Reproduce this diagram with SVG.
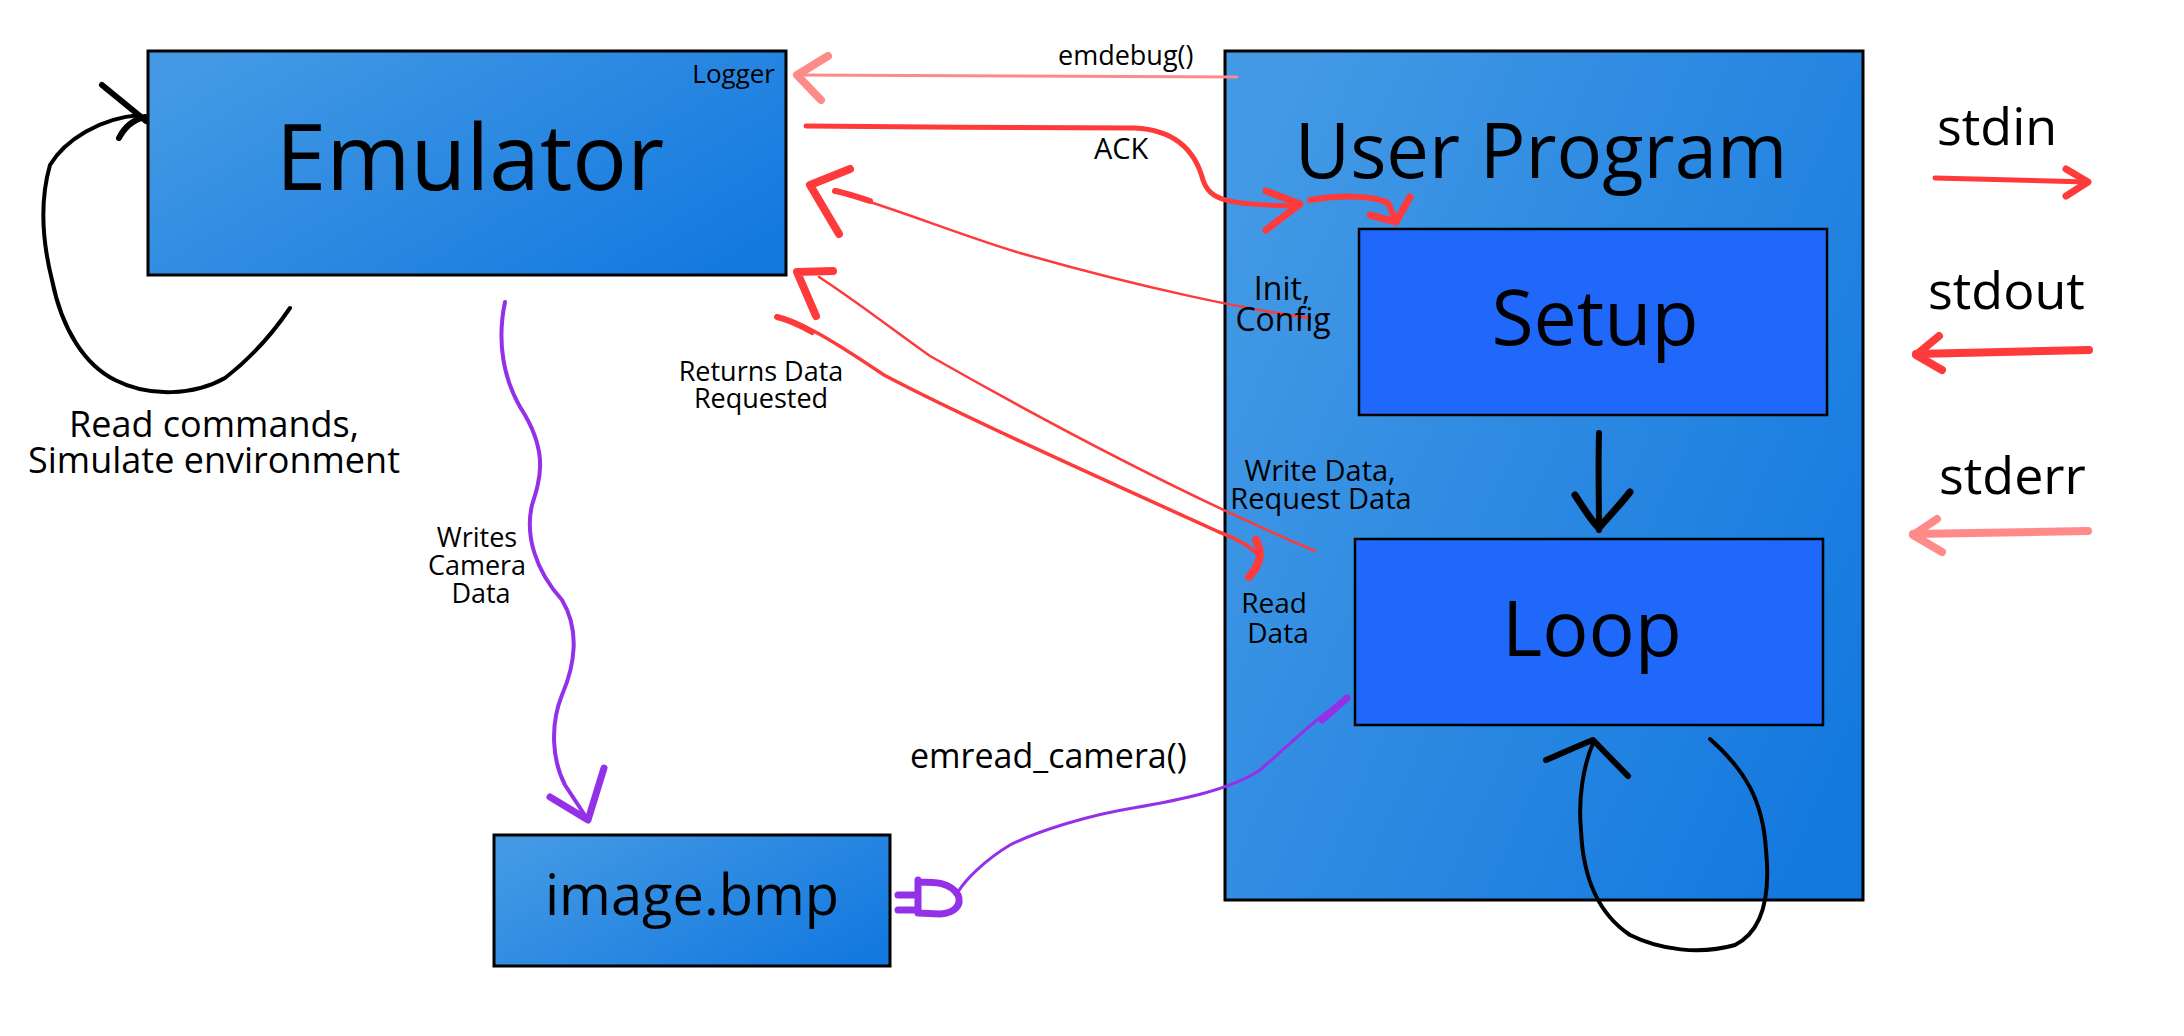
<svg xmlns="http://www.w3.org/2000/svg" width="2184" height="1036" viewBox="0 0 2184 1036">
<defs>
<linearGradient id="gBox" x1="0" y1="0.2" x2="1" y2="0.8">
<stop offset="0" stop-color="#4399e4"/>
<stop offset="1" stop-color="#1479df"/>
</linearGradient>
<style>
.box{fill:url(#gBox);stroke:#000;stroke-width:3}
.inner{fill:#1f68fa;stroke:#000;stroke-width:2.5}
text{font-family:"Open Sans","Noto Sans","DejaVu Sans",sans-serif;fill:#000}
.c{text-anchor:middle}
path{fill:none;stroke-linecap:round;stroke-linejoin:round}
.red{stroke:#ff3a3a}
.pink{stroke:#ff8a8a}
.pur{stroke:#9331e9}
.blk{stroke:#000}
</style>
</defs>
<rect width="2184" height="1036" fill="#fff"/>

<g id="user-program">
<rect class="box" x="1225" y="51" width="638" height="849"/>
<text class="c" x="1541" y="178" font-size="76">User Program</text>
</g>
<g id="setup">
<rect class="inner" x="1359" y="229" width="468" height="186"/>
<text class="c" x="1595" y="345" font-size="77">Setup</text>
</g>
<g id="loop">
<rect class="inner" x="1355" y="539" width="468" height="186"/>
<text class="c" x="1592" y="656" font-size="77">Loop</text>
</g>
<g id="emulator">
<rect class="box" x="148" y="51" width="638" height="224"/>
<text class="c" x="470" y="190" font-size="91">Emulator</text>
<text x="775" y="83" font-size="26" text-anchor="end">Logger</text>
</g>
<g id="image-bmp">
<rect class="box" x="494" y="835" width="396" height="131"/>
<text class="c" x="692" y="915" font-size="56">image.bmp</text>
</g>

<g id="connectors">
<!-- emulator self loop -->
<path class="blk" stroke-width="4" d="M140,115 C100,118 65,140 50,165 C40,200 42,240 52,280 C62,330 85,365 115,380 C150,398 195,395 225,378 C255,355 275,330 290,308"/>
<path class="blk" stroke-width="6" d="M102,85 L146,121 M119,138 C124,128 132,120 145,117"/>
<!-- writes camera data -->
<path class="pur" stroke-width="4" d="M505,302 C497,340 502,380 525,415 C548,455 540,480 532,505 C525,535 535,570 562,600 C580,630 575,665 562,695 C550,725 552,760 565,785 L588,820"/>
<path class="pur" stroke-width="7" d="M550,797 L588,820 L604,768"/>
<!-- emread_camera -->
<path class="pur" stroke-width="3" d="M1347,698 C1320,715 1300,735 1260,770 C1230,790 1180,800 1133,808 C1090,815 1040,830 1010,845 C985,860 965,880 958,892"/>
<path class="pur" stroke-width="7" d="M1347,698 C1338,706 1330,713 1322,720"/>
<path class="pur" stroke-width="7" d="M918,880 L918,913 M918,882 C935,882 950,882 958,895 C962,905 955,913 940,914 L918,913 M898,895 L918,895 M898,910 L918,910"/>
<!-- emdebug -->
<path class="pink" stroke-width="3" d="M1237,77 C1100,76 950,75 797,75"/>
<path class="pink" stroke-width="8" d="M828,56 L797,75 L821,100"/>
<!-- ACK -->
<path class="red" stroke-width="5" d="M806,126 C900,127 1050,128 1135,128 C1175,130 1195,150 1203,180 C1210,200 1225,205 1300,206"/>
<path class="red" stroke-width="7" d="M1266,191 L1300,204 L1266,230"/>
<path class="red" stroke-width="6" d="M1310,200 C1335,196 1370,194 1388,203 L1396,221"/>
<path class="red" stroke-width="7" d="M1370,215 L1396,222 L1410,197"/>
<!-- init config -->
<path class="red" stroke-width="2.5" d="M1310,318 C1250,310 1150,290 1020,253 C960,235 900,210 835,191"/>
<path class="red" stroke-width="6" d="M870,201 C858,197 846,193 835,191"/>
<path class="red" stroke-width="8" d="M850,169 L810,185 L839,234"/>
<!-- returns data -->
<path class="red" stroke-width="2.5" d="M1315,551 C1200,502 1060,430 930,356 C880,320 850,297 819,277"/>
<path class="red" stroke-width="8" d="M833,271 L797,272 L816,316"/>
<!-- read data -->
<path class="red" stroke-width="3.5" d="M777,317 C800,322 820,332 884,375 C950,410 1060,460 1219,532 C1240,540 1252,548 1258,555"/>
<path class="red" stroke-width="6" d="M777,317 C790,320 800,325 812,332"/>
<path class="red" stroke-width="8" d="M1256,540 C1262,552 1262,562 1249,577"/>
<!-- setup to loop -->
<path class="blk" stroke-width="6" d="M1599,433 C1598,470 1599,500 1599,530"/>
<path class="blk" stroke-width="7" d="M1575,495 C1585,510 1592,522 1599,528 C1610,515 1620,505 1630,492"/>
<!-- loop self -->
<path class="blk" stroke-width="4" d="M1594,741 C1583,765 1578,800 1581,830 C1583,880 1600,915 1630,935 C1660,950 1700,955 1735,945 C1765,930 1770,890 1766,850 C1763,800 1745,770 1710,739"/>
<path class="blk" stroke-width="6" d="M1546,760 C1565,752 1580,745 1593,740 L1628,776"/>
<!-- legend -->
<path class="red" stroke-width="5" d="M1935,178 L2087,182"/>
<path class="red" stroke-width="7" d="M2066,169 L2088,182 L2066,196"/>
<path class="red" stroke-width="8" d="M2089,350 L1916,354"/>
<path class="red" stroke-width="8" d="M1939,336 L1916,355 L1942,370"/>
<path class="pink" stroke-width="8" d="M2088,531 L1913,534"/>
<path class="pink" stroke-width="8" d="M1937,519 L1913,535 L1942,552"/>
</g>

<g id="labels">
<text class="c" x="214" y="437" font-size="36">Read commands,</text>
<text class="c" x="214" y="473" font-size="36">Simulate environment</text>
<text x="1058" y="65" font-size="27">emdebug()</text>
<text x="1094" y="159" font-size="29">ACK</text>
<text class="c" x="761" y="381" font-size="27">Returns Data</text>
<text class="c" x="761" y="408" font-size="27">Requested</text>
<text class="c" x="1282" y="300" font-size="32">Init,</text>
<text class="c" x="1283" y="331" font-size="32">Config</text>
<text class="c" x="1320" y="481" font-size="29">Write Data,</text>
<text class="c" x="1321" y="509" font-size="29">Request Data</text>
<text class="c" x="1274" y="613" font-size="28">Read</text>
<text class="c" x="1278" y="643" font-size="28">Data</text>
<text class="c" x="477" y="547" font-size="27">Writes</text>
<text class="c" x="477" y="575" font-size="27">Camera</text>
<text class="c" x="481" y="603" font-size="27">Data</text>
<text x="910" y="768" font-size="34">emread_camera()</text>
<text x="1937" y="145" font-size="52">stdin</text>
<text x="1928" y="309" font-size="52">stdout</text>
<text x="1939" y="494" font-size="52">stderr</text>
</g>
</svg>
